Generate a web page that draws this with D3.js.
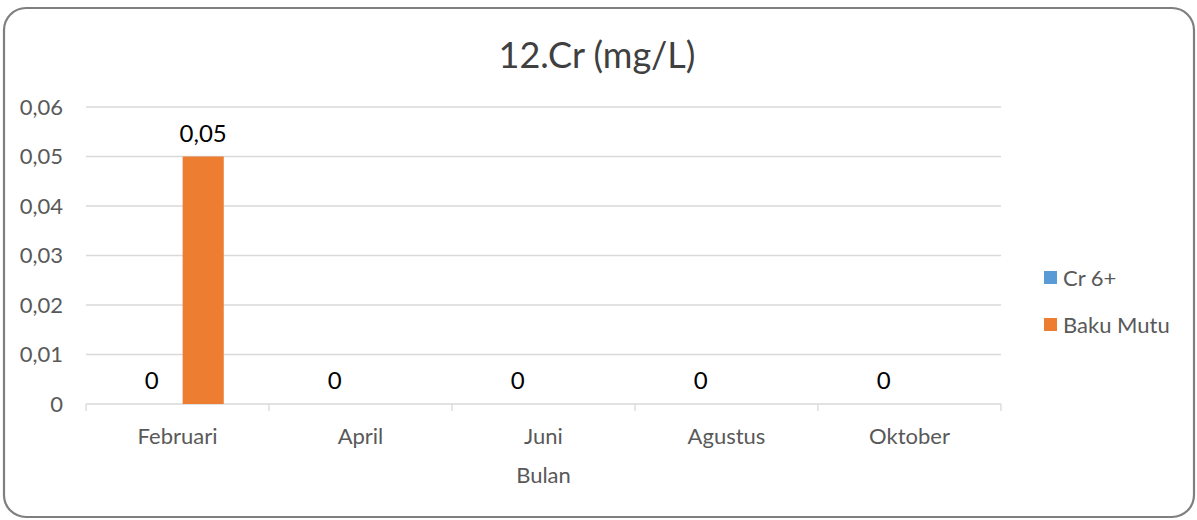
<!DOCTYPE html>
<html><head><meta charset="utf-8">
<script src="https://cdn.jsdelivr.net/npm/d3@7/dist/d3.min.js"></script>
<style>body{margin:0;background:#fff;}svg{display:block;}</style>
</head><body>
<svg id="c" width="1197" height="520"></svg>
<script>
const categories = ["Februari","April","Juni","Agustus","Oktober"];
const seriesNames = ["Cr 6+","Baku Mutu"];
const cr6 = [0,0,0,0,0];
const bakuMutu = [0.05,null,null,null,null];
const yTicks = [0,0.01,0.02,0.03,0.04,0.05,0.06];
const colors = ["#5b9bd5","#ed7d31"];
const title = "12.Cr (mg/L)";
const xTitle = "Bulan";

const font = "Lato, sans-serif";
const fs = 22;
const svg = d3.select("#c");
svg.append("rect").attr("x",4).attr("y",8).attr("width",1190).attr("height",509)
  .attr("rx",22).attr("ry",22).attr("fill","#fff").attr("stroke","#7f7f7f").attr("stroke-width",2.2);

const x0 = d3.scaleBand().domain(categories).range([86,1001]).paddingInner(0).paddingOuter(0);
const x1 = d3.scaleBand().domain(seriesNames).range([0,x0.bandwidth()]).paddingInner(0.2).paddingOuter(0.88);
const y = d3.scaleLinear().domain([0,0.06]).range([404,107]);
const fmt = v => d3.format(".2f")(v).replace(".",",").replace(/^0,00$/,"0");
const yfmt = v => v===0 ? "0" : d3.format(".2f")(v).replace(".",",");

// gridlines
svg.append("g").selectAll("line").data(yTicks.filter(d=>d>0)).join("line")
  .attr("x1",86).attr("x2",1001).attr("y1",d=>y(d)).attr("y2",d=>y(d))
  .attr("stroke","#d9d9d9").attr("stroke-width",1.3);

// y labels
svg.append("g").selectAll("text").data(yTicks).join("text")
  .attr("x",63).attr("y",d=>y(d)).attr("dy","0.35em").attr("text-anchor","end")
  .attr("font-family",font).attr("font-size",fs).attr("fill","#595959").text(yfmt);

// x axis
const xa = svg.append("g").attr("transform","translate(0,404)")
  .call(d3.axisBottom(x0).tickSize(0).tickPadding(0));
xa.select(".domain").remove();
xa.selectAll("text").remove();
svg.append("line").attr("x1",86).attr("x2",1001).attr("y1",404).attr("y2",404).attr("stroke","#d9d9d9").attr("stroke-width",1.3);
const bounds = categories.map(c=>x0(c)).concat([x0(categories[categories.length-1])+x0.bandwidth()]);
svg.append("g").selectAll("line").data(bounds).join("line")
  .attr("x1",d=>d).attr("x2",d=>d).attr("y1",404).attr("y2",411).attr("stroke","#d9d9d9").attr("stroke-width",1.3);
svg.append("g").selectAll("text").data(categories).join("text")
  .attr("x",d=>x0(d)+x0.bandwidth()/2).attr("y",444).attr("text-anchor","middle")
  .attr("font-family",font).attr("font-size",fs).attr("fill","#595959").text(d=>d);

// bars
const series = [cr6, bakuMutu];
series.forEach((vals,si)=>{
  const g = svg.append("g");
  categories.forEach((c,i)=>{
    const v = vals[i];
    if (v===null || v===undefined) return;
    const bx = x0(c)+x1(seriesNames[si]);
    if (v>0) g.append("rect").attr("x",bx).attr("y",y(v)).attr("width",x1.bandwidth()).attr("height",y(0)-y(v)).attr("fill",colors[si]);
    g.append("text").attr("x",bx+x1.bandwidth()/2).attr("y",y(v)-15).attr("text-anchor","middle")
      .attr("font-family",font).attr("font-size",24).attr("fill","#000").text(fmt(v));
  });
});

// title
svg.append("text").attr("x",597).attr("y",68).attr("text-anchor","middle")
  .attr("font-family",font).attr("font-size",36).attr("fill","#404040").text(title);
svg.append("text").attr("x",543.5).attr("y",483).attr("text-anchor","middle")
  .attr("font-family",font).attr("font-size",fs).attr("fill","#595959").text(xTitle);

// legend
const lg = svg.append("g").selectAll("g").data(seriesNames).join("g")
  .attr("transform",(d,i)=>`translate(1044,${271+i*47})`);
lg.append("rect").attr("width",13).attr("height",13).attr("fill",(d,i)=>colors[i]);
lg.append("text").attr("x",19).attr("y",7).attr("dy","0.35em").attr("font-family",font)
  .attr("font-size",fs).attr("fill","#595959").text(d=>d);
</script>
</body></html>
